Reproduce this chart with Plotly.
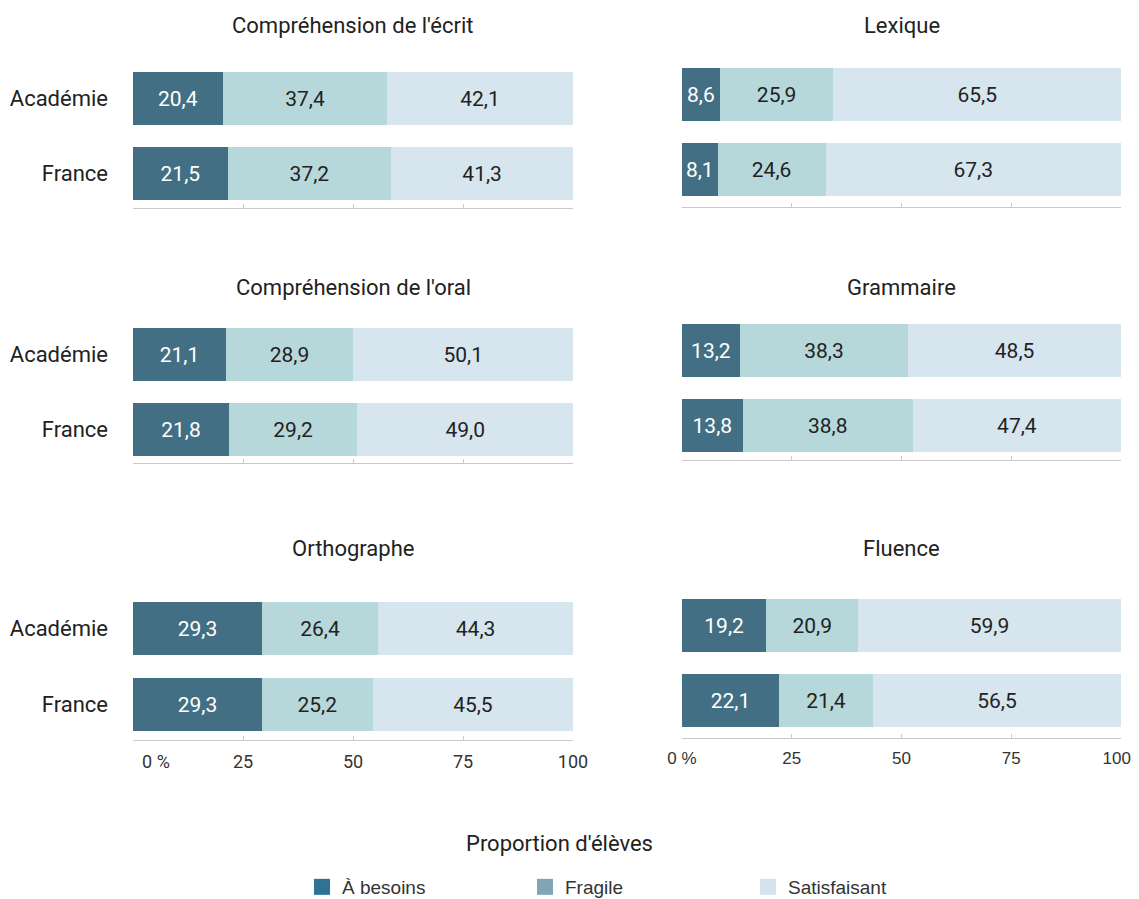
import plotly.graph_objects as go

# ---- data ----
panels = ["Compréhension de l'écrit", "Lexique",
          "Compréhension de l'oral", "Grammaire",
          "Orthographe", "Fluence"]
groups = ["Académie", "France"]
a_besoins = [[20.4, 21.5], [8.6, 8.1], [21.1, 21.8], [13.2, 13.8], [29.3, 29.3], [19.2, 22.1]]
fragile = [[37.4, 37.2], [25.9, 24.6], [28.9, 29.2], [38.3, 38.8], [26.4, 25.2], [20.9, 21.4]]
satisfaisant = [[42.1, 41.3], [65.5, 67.3], [50.1, 49.0], [48.5, 47.4], [44.3, 45.5], [59.9, 56.5]]
series_names = ["À besoins", "Fragile", "Satisfaisant"]
tick_vals = [0, 25, 50, 75, 100]
tick_text_left = ["\u2003\u2003\u20020 %", "25", "50", "75", "100"]
tick_text_right = ["0 %", "25", "50", "75", "100\u2002"]
x_title = "Proportion d'élèves"

# ---- style ----
OFF = 8  # page body margin
W, H = 1139 - OFF, 899 - OFF
bar_colors = ["#436f84", "#b7d8da", "#d7e5ee"]
legend_colors = ["#2c7395", "#80a6b3", "#d5e3ec"]
text_colors = ["white", "#222222", "#222222"]
COND = "Roboto, Liberation Sans Narrow, DejaVu Sans Condensed, sans-serif"
REG = "Liberation Sans, Arial, sans-serif"


def px_x(p):
    return (p - OFF) / W


def px_y(p):
    return 1 - (p - OFF) / H


# pixel layout per panel (window pixels): (x0, x1, centre Académie, centre France, axis line y)
geo = [
    (133, 573, 98.5, 173.5, 208),
    (682, 1121, 94.5, 169.5, 207),
    (133, 573, 354.5, 429.5, 463),
    (682, 1121, 350.5, 425.5, 460),
    (133, 573, 628.5, 704.5, 740),
    (682, 1121, 625.5, 700.5, 738),
]
title_y = [25, 25, 287, 287, 548, 548]

fig = go.Figure()
annotations = []
for i, name in enumerate(panels):
    x0, x1, cA, cF, ax = geo[i]
    step = cF - cA
    d = (ax - cF) / step
    top_px = cA - (ax - cF)
    bar_w = 53.0 / step
    xa = "x" if i == 0 else f"x{i+1}"
    ya = "y" if i == 0 else f"y{i+1}"
    vals = [a_besoins[i], fragile[i], satisfaisant[i]]
    for s in range(3):
        fig.add_trace(go.Bar(
            y=groups, x=vals[s], orientation="h",
            marker=dict(color=bar_colors[s], line=dict(width=0)),
            width=bar_w,
            text=vals[s], texttemplate="%{x:.1f}", textposition="inside",
            insidetextanchor="middle", textangle=0,
            textfont=dict(color=text_colors[s], size=21, family=COND),
            xaxis=xa, yaxis=ya, showlegend=False, hoverinfo="skip",
        ))
    left = (i % 2 == 0)
    bottom = (i >= 4)
    xaxis = dict(
        domain=[px_x(x0), px_x(x1)], anchor=ya, range=[0, 100],
        showgrid=False, zeroline=False, showline=True, linecolor="#c9c9c9", linewidth=1,
        ticks="inside", ticklen=4, tickcolor="#c9c9c9", tickwidth=1,
        tickvals=tick_vals,
        ticktext=tick_text_left if left else tick_text_right,
        showticklabels=bottom,
        tickfont=dict(size=18 if left else 17, color="#333333", family=COND if left else REG),
        ticklabelstandoff=5,
        ticklabeloverflow="allow",
        automargin=False,
        fixedrange=True,
    )
    yaxis = dict(
        domain=[px_y(ax), px_y(top_px)], anchor=xa,
        type="category", categoryorder="array", categoryarray=["France", "Académie"],
        range=[-d, 1 + d],
        showgrid=False, zeroline=False, showline=False, ticks="",
        showticklabels=left, ticklabelstandoff=24,
        tickfont=dict(size=22, color="#222222", family=COND),
        automargin=False,
        fixedrange=True,
    )
    sx = "" if i == 0 else str(i + 1)
    fig.update_layout(**{f"xaxis{sx}": xaxis, f"yaxis{sx}": yaxis})
    annotations.append(dict(
        text=name, xref="paper", yref="paper",
        x=px_x((x0 + x1) / 2), y=px_y(title_y[i]),
        xanchor="center", yanchor="middle", showarrow=False,
        font=dict(size=22, color="#222222", family=COND),
    ))

annotations.append(dict(
    text=x_title, xref="paper", yref="paper", x=px_x(559), y=px_y(843),
    xanchor="center", yanchor="middle", showarrow=False,
    font=dict(size=22, color="#222222", family=COND),
))

# legend entries (legend swatches use their own colours)
for s in range(3):
    fig.add_trace(go.Scatter(
        x=[None], y=[None], mode="markers", name=series_names[s],
        marker=dict(symbol="square", size=18, color=legend_colors[s]),
        showlegend=True, hoverinfo="skip", xaxis="x", yaxis="y",
    ))

fig.update_layout(
    width=W, height=H, barmode="stack",
    margin=dict(l=0, r=0, t=0, b=0, autoexpand=False),
    paper_bgcolor="white", plot_bgcolor="white",
    separators=", ",
    uniformtext=dict(minsize=21, mode="show"),
    annotations=annotations,
    showlegend=True,
    legend=dict(
        orientation="h", x=px_x(302), xanchor="left", y=px_y(887), yanchor="middle",
        font=dict(size=19, color="#333333", family=REG),
        traceorder="normal",
        entrywidth=178, entrywidthmode="pixels",
        itemclick=False, itemdoubleclick=False,
    ),
)

fig.write_html("out.html")
